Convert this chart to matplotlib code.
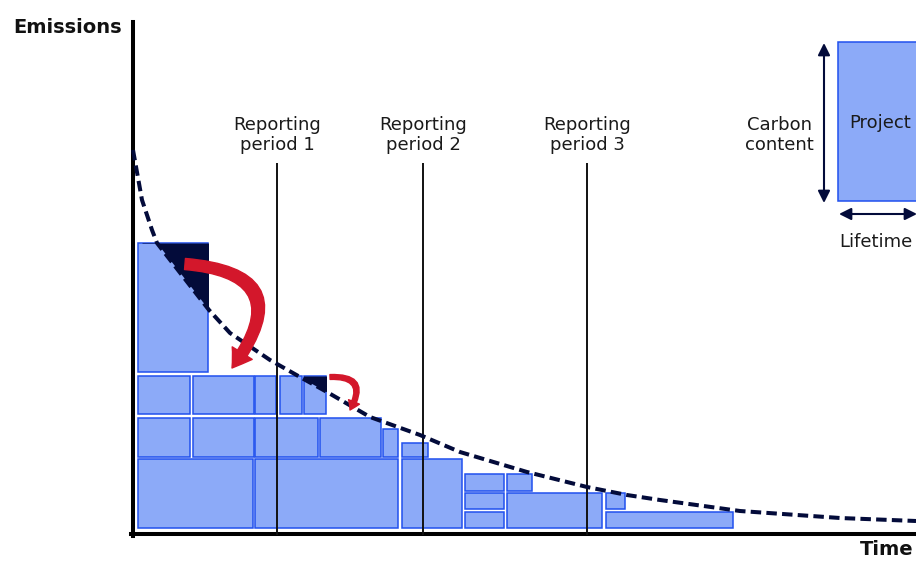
import matplotlib
matplotlib.use("Agg")
import matplotlib.pyplot as plt
from matplotlib.patches import Rectangle, FancyArrowPatch
import numpy as np

plt.rcParams['font.family'] = ['DejaVu Sans']

# ---- data (time / emissions units) ----
# projects: start time, lifetime, base level, carbon content
block_start    = [5, 5, 60, 122, 147, 171, 5, 60, 122, 187, 250, 269, 5, 122, 269,
                  332, 332, 332, 374, 374, 473, 473]
block_lifetime = [70, 52, 61, 21, 22, 22, 52, 61, 63, 61, 15, 26, 115, 143, 60,
                  39, 39, 39, 25, 95, 19, 127]
block_base     = [161, 119, 119, 119, 119, 119, 76, 76, 76, 76, 76, 76, 5, 5, 5,
                  42, 24, 5, 42, 5, 24, 5]
block_carbon   = [129, 38, 38, 38, 38, 38, 39, 39, 39, 39, 28, 14, 69, 69, 69,
                  17, 16, 16, 17, 35, 16, 16]
block_overrun  = [True, False, False, False, False, True] + [False] * 16

# emissions budget curve
curve_t = [0, 9, 19, 24, 76, 97, 137, 167, 194, 237, 287, 327, 394, 454, 494, 527, 607, 707, 783]
curve_e = [383, 333, 303, 290, 223, 200, 173, 156, 141, 116, 98, 81, 61, 46, 38, 33, 22, 15, 12]

period_labels = ["Reporting\nperiod 1", "Reporting\nperiod 2", "Reporting\nperiod 3"]
period_times = [144, 290, 454]

FILL = '#8caaf8'
EDGE = '#2050ee'
NAVY = '#030b3a'
RED = '#d3172b'

fig = plt.figure(figsize=(9.16, 5.61), dpi=100)
ax = fig.add_axes([0, 0, 1, 1])
ax.set_xlim(-133, 783)
ax.set_ylim(-28, 533)
for s in ['top', 'right']:
    ax.spines[s].set_visible(False)
ax.spines['left'].set_position(('data', 0))
ax.spines['bottom'].set_position(('data', -0.5))
ax.spines['left'].set_bounds(-2.5, 511)
ax.spines['bottom'].set_bounds(-2, 783)
ax.spines['left'].set_linewidth(2.9)
ax.spines['bottom'].set_linewidth(2.9)
ax.set_xticks([])
ax.set_yticks([])
ax.patch.set_alpha(0)

ct = np.array(curve_t, dtype=float)
ce = np.array(curve_e, dtype=float)

for x0, w, b, h, over in zip(block_start, block_lifetime, block_base, block_carbon, block_overrun):
    r = Rectangle((x0, b), w, h, facecolor=FILL, edgecolor=EDGE, linewidth=1.1, zorder=2)
    ax.add_patch(r)
    if over:
        top = b + h
        poly = ax.fill_between(ct, ce, top, where=ce <= top + 60, interpolate=True,
                               color=NAVY, linewidth=0, zorder=3)
        poly.set_clip_path(r)

# reporting periods
for lab, t in zip(period_labels, period_times):
    ax.plot([t, t], [-2, 370], color='#111111', linewidth=1.4, zorder=4, solid_capstyle='butt')
    ax.text(t, 398, lab, ha='center', va='center', fontsize=13, color='#1a1a1a',
            linespacing=1.2)

# decay curve
ax.plot(ct, ce, color=NAVY, linewidth=2.9, dashes=(2.6, 1.3), zorder=5)

# red arrows (redistribution of excess)
a1 = FancyArrowPatch((52, 269), (99, 165), connectionstyle='arc3,rad=-0.9',
                     arrowstyle='simple,head_length=1.3,head_width=1.7,tail_width=0.8',
                     mutation_scale=10, color=RED, shrinkA=0, shrinkB=0, zorder=6)
ax.add_patch(a1)
a2 = FancyArrowPatch((197, 156), (217, 123), connectionstyle='arc3,rad=-0.9',
                     arrowstyle='simple,head_length=1.3,head_width=1.7,tail_width=0.7',
                     mutation_scale=5, color=RED, shrinkA=0, shrinkB=0, zorder=6)
ax.add_patch(a2)

# axis labels
ax.text(-11, 500, "Emissions", ha='right', va='baseline', fontsize=14, fontweight='bold', color='#111111')
ax.text(780, -22, "Time", ha='right', va='baseline', fontsize=14, fontweight='bold', color='#111111')

# key
ax.add_patch(Rectangle((705, 332), 110, 159, facecolor=FILL, edgecolor=EDGE, linewidth=1.1, zorder=2))
ax.text(747, 405.5, "Project", ha='center', va='baseline', fontsize=13, color='#1a1a1a', zorder=3)
ax.add_patch(FancyArrowPatch((691, 330), (691, 490), arrowstyle='<|-|>,head_length=0.6,head_width=0.3',
                             mutation_scale=12, color=NAVY, linewidth=1.5, shrinkA=0, shrinkB=0))
ax.add_patch(FancyArrowPatch((706, 319), (784, 319), arrowstyle='<|-|>,head_length=0.6,head_width=0.3',
                             mutation_scale=12, color=NAVY, linewidth=1.5, shrinkA=0, shrinkB=0))
ax.text(646, 398, "Carbon\ncontent", ha='center', va='center', fontsize=13, color='#1a1a1a',
        linespacing=1.2)
ax.text(743, 286, "Lifetime", ha='center', va='baseline', fontsize=13, color='#1a1a1a')

fig.savefig("out.png", dpi=100)
